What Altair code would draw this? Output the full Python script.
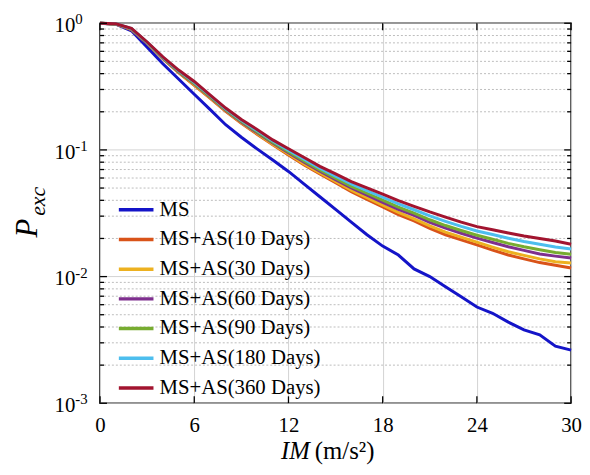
import altair as alt
import pandas as pd

# ---------------- data ----------------
im = list(range(31))

p_ms = [1.0, 0.982, 0.871, 0.646, 0.479, 0.363, 0.275, 0.209, 0.158, 0.126, 0.102,
        0.0832, 0.0676, 0.0537, 0.0427, 0.0339, 0.0269, 0.0214, 0.0174, 0.0148, 0.0115,
        0.0100, 0.00832, 0.00692, 0.00575, 0.00513, 0.00437, 0.00380, 0.00347, 0.00282, 0.00263]
p_10 = [1.0, 0.986, 0.891, 0.692, 0.525, 0.407, 0.324, 0.257, 0.202, 0.162, 0.133,
        0.110, 0.0912, 0.0759, 0.0646, 0.0550, 0.0468, 0.0407, 0.0355, 0.0309, 0.0275,
        0.0240, 0.0214, 0.0195, 0.0178, 0.0162, 0.0148, 0.0138, 0.0129, 0.0123, 0.0117]
p_30 = [1.0, 0.987, 0.894, 0.695, 0.527, 0.410, 0.327, 0.259, 0.204, 0.164, 0.135,
        0.111, 0.0928, 0.0774, 0.0659, 0.0563, 0.0481, 0.0420, 0.0367, 0.0321, 0.0286,
        0.0251, 0.0224, 0.0205, 0.0187, 0.0171, 0.0157, 0.0147, 0.0138, 0.0131, 0.0128]
p_60 = [1.0, 0.988, 0.899, 0.698, 0.531, 0.414, 0.332, 0.262, 0.206, 0.166, 0.137,
        0.1135, 0.0952, 0.0798, 0.0679, 0.0583, 0.0501, 0.0440, 0.0386, 0.0340, 0.0304,
        0.0268, 0.0241, 0.0220, 0.0201, 0.0186, 0.0172, 0.0161, 0.0151, 0.0145, 0.0140]
p_90 = [1.0, 0.988, 0.902, 0.702, 0.533, 0.418, 0.336, 0.265, 0.208, 0.168, 0.139,
        0.115, 0.0969, 0.0817, 0.0695, 0.0598, 0.0515, 0.0455, 0.0401, 0.0353, 0.0317,
        0.0281, 0.0253, 0.0231, 0.0212, 0.0197, 0.0183, 0.0172, 0.0163, 0.0155, 0.0150]
p_180 = [1.0, 0.989, 0.907, 0.707, 0.538, 0.422, 0.341, 0.269, 0.211, 0.171, 0.142,
         0.1175, 0.0995, 0.0843, 0.0718, 0.0621, 0.0538, 0.0477, 0.0423, 0.0375, 0.0337,
         0.0301, 0.0273, 0.0249, 0.0229, 0.0215, 0.0201, 0.0189, 0.0180, 0.0171, 0.0165]
p_360 = [1.0, 0.989, 0.912, 0.711, 0.542, 0.427, 0.347, 0.272, 0.214, 0.174, 0.145,
         0.120, 0.102, 0.0871, 0.0741, 0.0646, 0.0562, 0.0501, 0.0447, 0.0398, 0.0359,
         0.0324, 0.0295, 0.0269, 0.0248, 0.0234, 0.0221, 0.0209, 0.0200, 0.0191, 0.0180]

series_names = ["MS", "MS+AS(10 Days)", "MS+AS(30 Days)", "MS+AS(60 Days)",
                "MS+AS(90 Days)", "MS+AS(180 Days)", "MS+AS(360 Days)"]
series_colors = ["#1414C8", "#D95319", "#EDB120", "#7E2F8E", "#77AC30", "#4DBEEE", "#A2142F"]
series_values = [p_ms, p_10, p_30, p_60, p_90, p_180, p_360]

x_ticks = [0, 6, 12, 18, 24, 30]
y_major = [1.0, 0.1, 0.01, 0.001]
y_exp = ["0", "-1", "-2", "-3"]
y_minor = [0.002, 0.003, 0.004, 0.005, 0.006, 0.007, 0.008, 0.009,
           0.02, 0.03, 0.04, 0.05, 0.06, 0.07, 0.08, 0.09,
           0.2, 0.3, 0.4, 0.5, 0.6, 0.7, 0.8, 0.9]

# ---------------- tables ----------------
rows = []
for name, vals in zip(series_names, series_values):
    for x, p in zip(im, vals):
        rows.append({"IM": x, "P": p, "series": name})
df = pd.DataFrame(rows)

df_xt = pd.DataFrame({"IM": x_ticks})
df_major = pd.DataFrame({"P": y_major, "exp": y_exp, "base": ["10"] * len(y_major)})
df_minor = pd.DataFrame({"P": y_minor})

W, H = 476, 384
FONT = "Liberation Serif"

xs = alt.Scale(domain=[0, 30], nice=False, zero=False)
ys = alt.Scale(type="log", domain=[0.001, 1], nice=False)
xaxis = alt.Axis(values=x_ticks, grid=True, gridColor="#d2d2d2", gridWidth=1,
                 ticks=False, domain=False, labelFont=FONT, labelFontSize=21,
                 labelColor="black", labelPadding=12, labelAngle=0, title=None,
                 labelFlush=False)


def X():
    return alt.X("IM:Q", scale=xs, axis=xaxis)


def Y():
    return alt.Y("P:Q", scale=ys, axis=None)


minor_grid = alt.Chart(df_minor).mark_rule(color="#bcbcbc", strokeWidth=1, strokeDash=[2, 2]).encode(
    y=Y(), x=alt.value(0), x2=alt.value(W))
major_grid = alt.Chart(df_major).mark_rule(color="#d2d2d2", strokeWidth=1).encode(
    y=Y(), x=alt.value(0), x2=alt.value(W))

lines = alt.Chart(df).mark_line(strokeWidth=3).encode(
    x=X(), y=Y(),
    color=alt.Color("series:N",
                    scale=alt.Scale(domain=series_names, range=series_colors),
                    legend=alt.Legend(orient="none", legendX=17, legendY=169, title=None,
                                      symbolType="stroke", symbolStrokeWidth=3.5,
                                      symbolSize=1225, labelFont=FONT, labelFontSize=21,
                                      labelColor="black", labelOffset=4, rowPadding=0,
                                      padding=0, labelLimit=300)),
)

tick_bot = alt.Chart(df_xt).mark_rule(color="black", strokeWidth=1.3).encode(
    x=X(), y=alt.value(H), y2=alt.value(H - 7))
tick_top = alt.Chart(df_xt).mark_rule(color="black", strokeWidth=1.3).encode(
    x=X(), y=alt.value(0), y2=alt.value(7))
tick_lmaj = alt.Chart(df_major).mark_rule(color="black", strokeWidth=1.3).encode(
    y=Y(), x=alt.value(0), x2=alt.value(7))
tick_rmaj = alt.Chart(df_major).mark_rule(color="black", strokeWidth=1.3).encode(
    y=Y(), x=alt.value(W), x2=alt.value(W - 7))
tick_lmin = alt.Chart(df_minor).mark_rule(color="black", strokeWidth=1.3).encode(
    y=Y(), x=alt.value(0), x2=alt.value(4))
tick_rmin = alt.Chart(df_minor).mark_rule(color="black", strokeWidth=1.3).encode(
    y=Y(), x=alt.value(W), x2=alt.value(W - 4))

ylab_base = alt.Chart(df_major).mark_text(font=FONT, fontSize=21, align="right",
                                          baseline="middle", color="black", dy=3).encode(
    y=Y(), x=alt.value(-25), text="base:N")
ylab_exp = alt.Chart(df_major).mark_text(font=FONT, fontSize=15, align="left",
                                         baseline="middle", color="black", dy=-4).encode(
    y=Y(), x=alt.value(-25), text="exp:N")

one = pd.DataFrame({"k": [0]})
ytitle_p = alt.Chart(one).mark_text(font=FONT, fontSize=31, fontStyle="italic", angle=270,
                                    align="center", baseline="middle", color="black").encode(
    x=alt.value(-73), y=alt.value(207), text=alt.value("P"))
ytitle_s = alt.Chart(one).mark_text(font=FONT, fontSize=22, fontStyle="italic", angle=270,
                                    align="center", baseline="middle", color="black").encode(
    x=alt.value(-63), y=alt.value(180), text=alt.value("exc"))
xtitle_a = alt.Chart(one).mark_text(font=FONT, fontSize=25, fontStyle="italic",
                                    align="right", baseline="middle", color="black").encode(
    x=alt.value(212), y=alt.value(432), text=alt.value("IM"))
xtitle_b = alt.Chart(one).mark_text(font=FONT, fontSize=25,
                                    align="left", baseline="middle", color="black").encode(
    x=alt.value(217), y=alt.value(432), text=alt.value("(m/s²)"))

chart = alt.layer(
    minor_grid, major_grid, lines,
    tick_bot, tick_top, tick_lmaj, tick_rmaj, tick_lmin, tick_rmin,
    ylab_base, ylab_exp, ytitle_p, ytitle_s, xtitle_a, xtitle_b,
).properties(
    width=W, height=H,
    autosize=alt.AutoSizeParams(type="none"),
    padding={"left": 93, "top": 13, "right": 11, "bottom": 62},
    background="white",
).configure_view(stroke="black", strokeWidth=1.5)

chart.save("out.html", embed_options={"renderer": "svg", "actions": False})
